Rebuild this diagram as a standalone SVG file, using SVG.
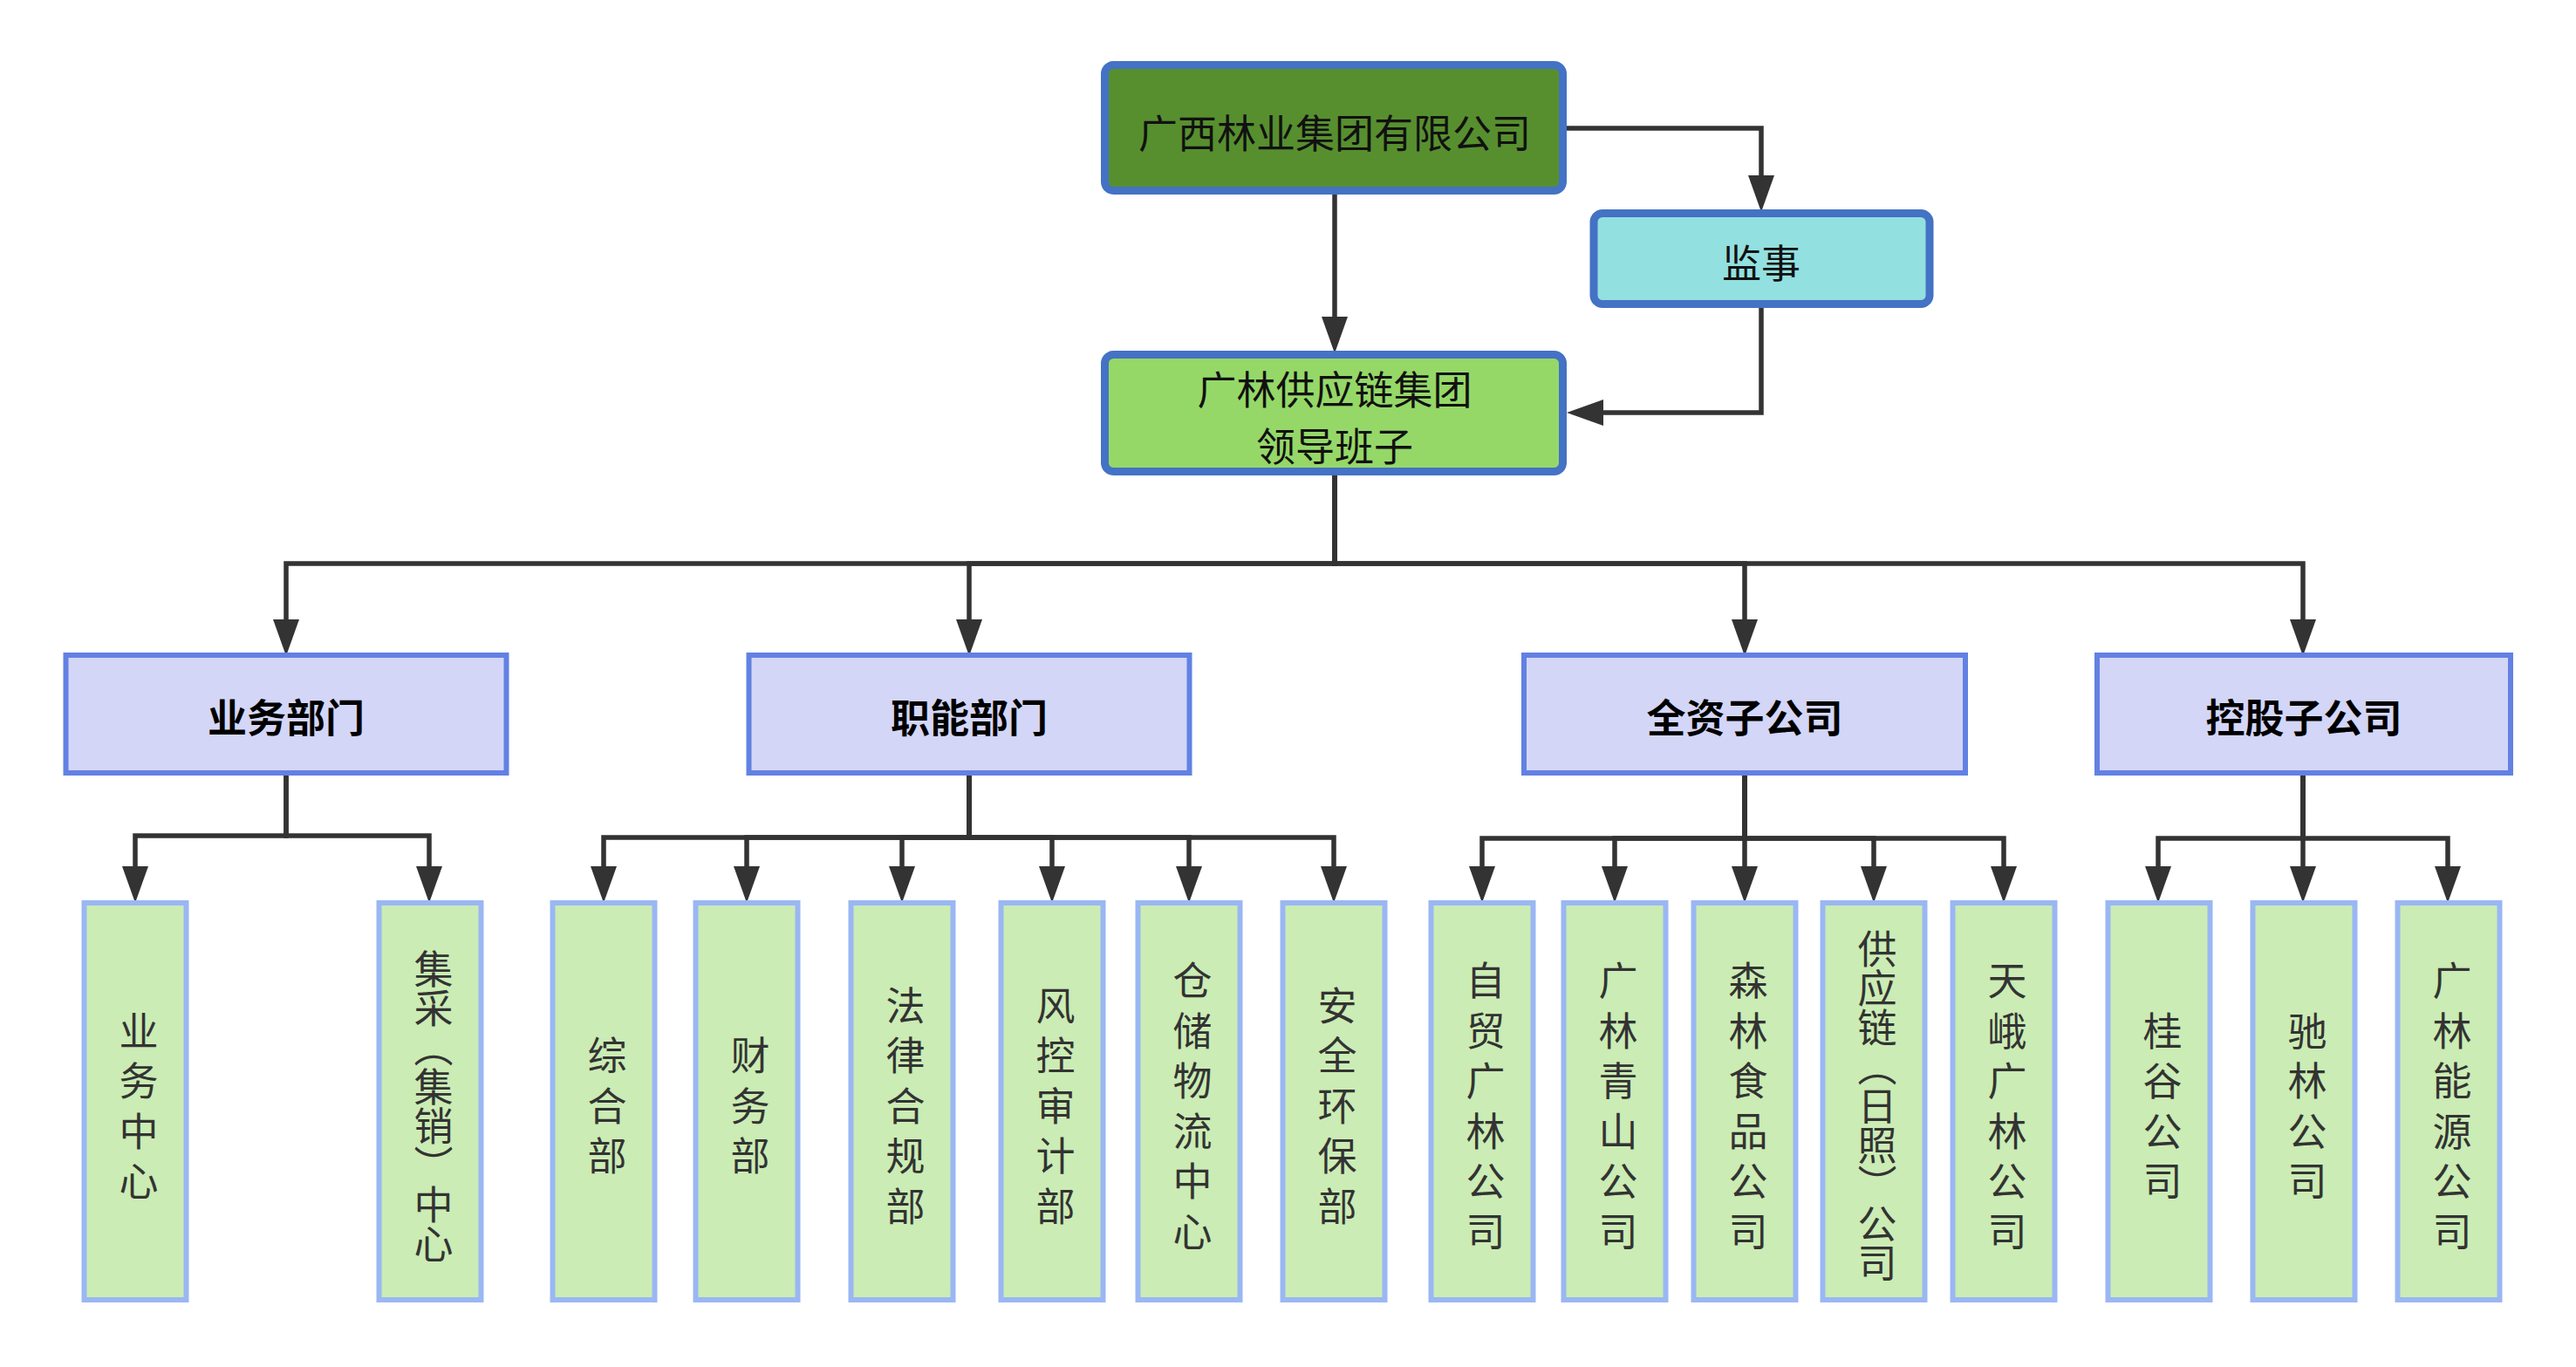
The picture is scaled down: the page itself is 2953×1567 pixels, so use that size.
<svg xmlns="http://www.w3.org/2000/svg" width="2953" height="1567" viewBox="0 0 2953 1567">
<style>
.t{font-family:"Noto Sans CJK SC","Noto Sans CJK JP",sans-serif;font-size:45px;fill:#111;text-anchor:middle;dominant-baseline:central}
.tb{font-family:"Noto Sans CJK SC","Noto Sans CJK JP",sans-serif;font-size:45px;font-weight:bold;fill:#000;text-anchor:middle;dominant-baseline:central}
.v{font-family:"Liberation Sans","Noto Sans CJK SC",sans-serif;font-size:45px;fill:#333;text-anchor:middle;writing-mode:vertical-rl}
.vs{letter-spacing:12.5px}
.top{fill:#578f2f;stroke:#4472c4;stroke-width:9}
.mid{fill:#95d868;stroke:#4472c4;stroke-width:9}
.sup{fill:#93e0e0;stroke:#4472c4;stroke-width:9}
.l2{fill:#d3d6f7;stroke:#6281e3;stroke-width:6}
.leaf{fill:#cbecb4;stroke:#9ab7f3;stroke-width:6}
.c{fill:none;stroke:#333;stroke-width:5.5;marker-end:url(#ah)}
</style>
<defs>
<marker id="ah" markerUnits="userSpaceOnUse" viewBox="0 0 42 30" markerWidth="42" markerHeight="30" refX="0" refY="15" orient="auto">
<path d="M0,0 L42,15 L0,30 Z" fill="#333"/>
</marker>
</defs>
<rect width="2953" height="1567" fill="#fff"/>
<g id="connectors">
<path class="c" d="M1530,223 V363"/>
<path class="c" d="M1796,147 H2019 V201"/>
<path class="c" d="M2019,353 V473 H1838"/>
<path class="c" d="M1530,545 V646 H328 V710"/>
<path class="c" d="M1530,545 V646 H1111 V710"/>
<path class="c" d="M1530,545 V646 H2000 V710"/>
<path class="c" d="M1530,545 V646 H2640 V710"/>
<path class="c" d="M328,889 V958 H155 V993"/>
<path class="c" d="M328,889 V958 H492 V993"/>
<path class="c" d="M1111,889 V960 H692 V993"/>
<path class="c" d="M1111,889 V960 H856 V993"/>
<path class="c" d="M1111,889 V960 H1034 V993"/>
<path class="c" d="M1111,889 V960 H1206 V993"/>
<path class="c" d="M1111,889 V960 H1363 V993"/>
<path class="c" d="M1111,889 V960 H1529 V993"/>
<path class="c" d="M2000,889 V961 H1699 V993"/>
<path class="c" d="M2000,889 V961 H1851 V993"/>
<path class="c" d="M2000,889 V961 V993"/>
<path class="c" d="M2000,889 V961 H2148 V993"/>
<path class="c" d="M2000,889 V961 H2297 V993"/>
<path class="c" d="M2640,889 V961 H2474 V993"/>
<path class="c" d="M2640,889 V961 V993"/>
<path class="c" d="M2640,889 V961 H2806 V993"/>
</g>
<g id="n-group"><rect class="top" x="1266.5" y="74.5" width="525" height="144" rx="10"/><text class="t" x="1530" y="150">广西林业集团有限公司</text></g>
<g id="n-supervisor"><rect class="sup" x="1827" y="244.5" width="385" height="104" rx="10"/><text class="t" x="2019" y="299">监事</text></g>
<g id="n-leader"><rect class="mid" x="1266.5" y="406.5" width="525" height="134" rx="10"/><text class="t" x="1530" y="444"><tspan x="1530" y="444">广林供应链集团</tspan><tspan x="1530" y="509">领导班子</tspan></text></g>
<g id="n-biz"><rect class="l2" x="75.5" y="751" width="505" height="135"/><text class="tb" x="328" y="820">业务部门</text></g>
<g id="n-func"><rect class="l2" x="858.5" y="751" width="505" height="135"/><text class="tb" x="1111" y="820">职能部门</text></g>
<g id="n-whole"><rect class="l2" x="1747" y="751" width="506" height="135"/><text class="tb" x="2000" y="820">全资子公司</text></g>
<g id="n-hold"><rect class="l2" x="2404" y="751" width="474" height="135"/><text class="tb" x="2641" y="820">控股子公司</text></g>
<g id="n-l1"><rect class="leaf" x="96.5" y="1035" width="117" height="455"/><text class="v vs" x="155" y="1274">业务中心</text></g>
<g id="n-l2"><rect class="leaf" x="434.5" y="1035" width="117" height="455"/><text class="v" x="493" y="1268">集采（集销）中心</text></g>
<g id="n-l3"><rect class="leaf" x="633.5" y="1035" width="117" height="455"/><text class="v vs" x="692" y="1274">综合部</text></g>
<g id="n-l4"><rect class="leaf" x="797.5" y="1035" width="117" height="455"/><text class="v vs" x="856" y="1274">财务部</text></g>
<g id="n-l5"><rect class="leaf" x="975.5" y="1035" width="117" height="455"/><text class="v vs" x="1034" y="1274">法律合规部</text></g>
<g id="n-l6"><rect class="leaf" x="1147.5" y="1035" width="117" height="455"/><text class="v vs" x="1206" y="1274">风控审计部</text></g>
<g id="n-l7"><rect class="leaf" x="1304.5" y="1035" width="117" height="455"/><text class="v vs" x="1363" y="1274">仓储物流中心</text></g>
<g id="n-l8"><rect class="leaf" x="1470.5" y="1035" width="117" height="455"/><text class="v vs" x="1529" y="1274">安全环保部</text></g>
<g id="n-l9"><rect class="leaf" x="1640.5" y="1035" width="117" height="455"/><text class="v vs" x="1699" y="1274">自贸广林公司</text></g>
<g id="n-l10"><rect class="leaf" x="1792.5" y="1035" width="117" height="455"/><text class="v vs" x="1851" y="1274">广林青山公司</text></g>
<g id="n-l11"><rect class="leaf" x="1941.5" y="1035" width="117" height="455"/><text class="v vs" x="2000" y="1274">森林食品公司</text></g>
<g id="n-l12"><rect class="leaf" x="2089.5" y="1035" width="117" height="455"/><text class="v" x="2148" y="1268">供应链（日照）公司</text></g>
<g id="n-l13"><rect class="leaf" x="2238.5" y="1035" width="117" height="455"/><text class="v vs" x="2297" y="1274">天峨广林公司</text></g>
<g id="n-l14"><rect class="leaf" x="2416.5" y="1035" width="117" height="455"/><text class="v vs" x="2475" y="1274">桂谷公司</text></g>
<g id="n-l15"><rect class="leaf" x="2582.5" y="1035" width="117" height="455"/><text class="v vs" x="2641" y="1274">驰林公司</text></g>
<g id="n-l16"><rect class="leaf" x="2748.5" y="1035" width="117" height="455"/><text class="v vs" x="2807" y="1274">广林能源公司</text></g>
</svg>
